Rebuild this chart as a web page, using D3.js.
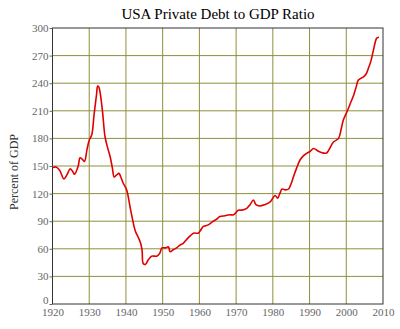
<!DOCTYPE html>
<html><head><meta charset="utf-8">
<script src="https://cdn.jsdelivr.net/npm/d3@7"></script>
<style>body{margin:0;background:#fff}svg{display:block}</style>
</head><body>
<svg id="c" width="400" height="329"></svg>
<script>
const title = "USA Private Debt to GDP Ratio";
const yLabel = "Percent of GDP";
const xTicks = [1920,1930,1940,1950,1960,1970,1980,1990,2000,2010];
const yTicks = [0,30,60,90,120,150,180,210,240,270,300];
const years = [1920,1921,1922,1923.1,1924,1924.8,1925.5,1926,1927,1927.5,1928.2,1928.7,1929.4,1930,1930.7,1931.3,1932,1932.3,1932.6,1933,1933.6,1934.3,1935,1935.7,1936.3,1936.8,1937.4,1938.1,1938.6,1939.3,1940.2,1941.1,1941.8,1942.5,1943.4,1944,1944.4,1944.7,1945.3,1946.1,1947,1948.4,1949.2,1949.8,1950.7,1951.6,1952,1952.9,1953.8,1954.7,1955.6,1956.5,1957.5,1958.4,1959.7,1960.3,1961,1961.7,1962.4,1963.8,1964.6,1965.6,1967,1968.2,1969.3,1970.6,1971.5,1972.9,1973.8,1974.7,1975.4,1976.4,1977.8,1979.3,1980.6,1981.3,1982,1982.5,1983.4,1984.3,1985,1985.6,1986.5,1987.4,1988.3,1989.3,1990.2,1991.1,1992.4,1993.8,1994.6,1995.2,1996.5,1997.9,1998.6,1999.2,2000.2,2001.1,2002,2002.7,2003.3,2004.7,2005.4,2006,2006.7,2007.4,2008.3,2008.9];
const ratio = [148,149,145,136,141,147,144,141,150,159,157,155,168,178,184,205,228,237,236,229,210,182,170,160,148,138,140,142,138,131,124,106,92,80,72,66,58,44,43,48,52,52,55,61,61,62,57,59,61,64,66,70,74,77,77,80,84,85,86,90,92,95,96,97,97,102,102,104,108,113,108,106.5,108,111,118,115,121,125,124,125,131,138,148,156.5,161,164,166,169,166,164,164,167,176,180,190,200,209,218,227,236,243.5,247,250,256,264,276,289,290];

const W = 400, H = 329;
const m = {left: 52.5, right: 17, top: 28, bottom: 25};
const svg = d3.select("#c");
const x = d3.scaleLinear().domain([1920,2010]).range([m.left, W - m.right]);
const y = d3.scaleLinear().domain([0,300]).range([H - m.bottom, m.top]);

const grid = "#8f8f3f";
svg.append("g").selectAll("line").data(xTicks.slice(1,-1)).join("line")
  .attr("x1", d=>x(d)).attr("x2", d=>x(d)).attr("y1", y(0)).attr("y2", y(300))
  .attr("stroke", grid).attr("stroke-width", 1);
svg.append("g").selectAll("line").data(yTicks.slice(1,-1)).join("line")
  .attr("y1", d=>y(d)).attr("y2", d=>y(d)).attr("x1", x(1920)).attr("x2", x(2010))
  .attr("stroke", grid).attr("stroke-width", 1);

svg.append("rect").attr("x", x(1920)).attr("y", y(300))
  .attr("width", x(2010)-x(1920)).attr("height", y(0)-y(300))
  .attr("fill", "none").attr("stroke", "#333").attr("stroke-width", 1);

const yAxis = svg.append("g").attr("transform", `translate(${x(1920)},0)`)
  .call(d3.axisLeft(y).tickValues(yTicks).tickSize(3).tickPadding(1));
const xAxis = svg.append("g").attr("transform", `translate(0,${y(0)})`)
  .call(d3.axisBottom(x).tickValues(xTicks).tickFormat(d3.format("d")).tickSize(0).tickPadding(4));
[yAxis, xAxis].forEach(a => {
  a.select(".domain").remove();
  a.selectAll("line").attr("stroke", "#666");
  a.selectAll("text").attr("fill", "#666").attr("font-family", "'Liberation Serif', 'DejaVu Serif', serif").attr("font-size", 11);
});
// the "0" label sits just above the 1920 label, as in the reference
yAxis.selectAll(".tick").filter(d => d === 0).select("text").attr("dy", "-0.05em");

svg.append("path").datum(years.map((d,i)=>[d, ratio[i]]))
  .attr("fill", "none").attr("stroke", "#e00000").attr("stroke-width", 1.6)
  .attr("stroke-linejoin", "round")
  .attr("d", d3.line().x(d=>x(d[0])).y(d=>y(d[1])).curve(d3.curveCatmullRom));

svg.append("text").attr("x", 218).attr("y", 19).attr("text-anchor", "middle")
  .attr("font-family", "'Liberation Serif', serif").attr("font-size", 15).attr("fill", "#000").text(title);
svg.append("text").attr("transform", "translate(18,172) rotate(-90)").attr("text-anchor", "middle")
  .attr("font-family", "'Liberation Serif', serif").attr("font-size", 12).attr("fill", "#333").text(yLabel);
</script>
</body></html>
